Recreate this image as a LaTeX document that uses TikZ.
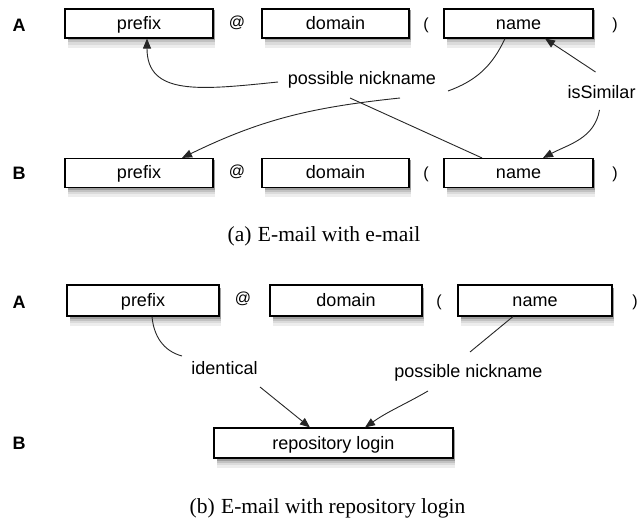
\documentclass[tikz,border=0pt]{standalone}
\usepackage{fontspec}
\setmainfont{Liberation Serif}
\setsansfont{Liberation Sans}
\usetikzlibrary{arrows.meta}

\tikzset{
  field/.style={draw=black, line width=1.1pt, fill=white, inner sep=0pt,
    minimum height=29pt, text height=14pt, text depth=2pt,
    font=\sffamily\fontsize{18}{20}\selectfont},
  sym/.style={font=\sffamily\fontsize{16}{18}\selectfont, inner sep=0pt},
  rowlabel/.style={font=\sffamily\bfseries\fontsize{18}{20}\selectfont, inner sep=0pt},
  relation/.style={font=\sffamily\fontsize{18}{20}\selectfont, inner sep=0pt},
  caption/.style={font=\rmfamily\fontsize{21.5}{24}\selectfont, inner sep=0pt, anchor=base},
  link/.style={draw=black!85, line width=0.9pt},
  arrowlink/.style={link, -{Triangle[length=10pt,width=8pt]}},
  shade1/.style={fill=black!7, draw=none},
  shade2/.style={fill=black!14, draw=none},
  shade3/.style={fill=black!24, draw=none},
  shade4/.style={fill=black!38, draw=none},
}

\begin{document}
\begin{tikzpicture}[x=1pt, y=-1pt]
\useasboundingbox (0,0) rectangle (639,518);

% soft drop shadows: grey bands under each box, lightest and lowest first
% row A of (a): boxes end at y=38
\fill[shade1] (68,16) rectangle (215,48);  \fill[shade1] (265,16) rectangle (411,48);  \fill[shade1] (447,16) rectangle (595,48);
\fill[shade2] (68,14) rectangle (215,45);  \fill[shade2] (265,14) rectangle (411,45);  \fill[shade2] (447,14) rectangle (595,45);
\fill[shade3] (68,12) rectangle (215,42.5);\fill[shade3] (265,12) rectangle (411,42.5);\fill[shade3] (447,12) rectangle (595,42.5);
\fill[shade4] (68,10) rectangle (215,40.5);\fill[shade4] (265,10) rectangle (411,40.5);\fill[shade4] (447,10) rectangle (595,40.5);
% row B of (a): boxes end at y=187.5
\fill[shade1] (68,166) rectangle (215,197.5);  \fill[shade1] (265,166) rectangle (411,197.5);  \fill[shade1] (447,166) rectangle (595,197.5);
\fill[shade2] (68,164) rectangle (215,194.5);  \fill[shade2] (265,164) rectangle (411,194.5);  \fill[shade2] (447,164) rectangle (595,194.5);
\fill[shade3] (68,162) rectangle (215,192);    \fill[shade3] (265,162) rectangle (411,192);    \fill[shade3] (447,162) rectangle (595,192);
\fill[shade4] (68,160) rectangle (215,190);    \fill[shade4] (265,160) rectangle (411,190);    \fill[shade4] (447,160) rectangle (595,190);
% row A of (b): boxes end at y=316
\fill[shade1] (70,294) rectangle (221,326);  \fill[shade1] (273,294) rectangle (424,326);  \fill[shade1] (461,294) rectangle (614,326);
\fill[shade2] (70,292) rectangle (221,323);  \fill[shade2] (273,292) rectangle (424,323);  \fill[shade2] (461,292) rectangle (614,323);
\fill[shade3] (70,290) rectangle (221,320.5);\fill[shade3] (273,290) rectangle (424,320.5);\fill[shade3] (461,290) rectangle (614,320.5);
\fill[shade4] (70,288) rectangle (221,318.5);\fill[shade4] (273,288) rectangle (424,318.5);\fill[shade4] (461,288) rectangle (614,318.5);
% row B of (b): box ends at y=458
\fill[shade1] (217,436) rectangle (455,468);
\fill[shade2] (217,434) rectangle (455,465);
\fill[shade3] (217,432) rectangle (455,462.5);
\fill[shade4] (217,430) rectangle (455,460.5);

% ---------- (a) e-mail against e-mail ----------
\node[rowlabel] (lA1) at (19,25) {A};
\node[rowlabel] (lB1) at (19,173) {B};

\node[field, minimum width=148pt] (pA) at (139,23.5) {prefix};
\node[sym] (atA) at (237,23) {@};
\node[field, minimum width=147pt] (dA) at (335.5,23.5) {domain};
\node[sym] (opA) at (426,25) {(};
\node[field, minimum width=149pt] (nA) at (518.5,23.5) {name};
\node[sym] (clA) at (615,25) {)};

\node[field, minimum width=148pt] (pB) at (139,173) {prefix};
\node[sym] (atB) at (237,172) {@};
\node[field, minimum width=147pt] (dB) at (335.5,173) {domain};
\node[sym] (opB) at (426,174) {(};
\node[field, minimum width=149pt] (nB) at (518.5,173) {name};
\node[sym] (clB) at (615,174) {)};

\node[relation] (nick) at (362,80) {possible nickname};
\node[relation] (sim) at (601.5,92) {isSimilar};

% name (A) -> prefix (B)
\draw[link] ([xshift=-13.5pt]nA.south) to[out=-115, in=20]
  ([shift={(86,11)}]nick.center);
\draw[arrowlink] ([shift={(38,18)}]nick.center) to[out=186, in=26]
  ([xshift=43pt]pB.north);
% name (B) -> prefix (A)
\draw[link] ([xshift=-36.5pt]nB.north) -- ([shift={(-12,18)}]nick.center);
\draw[arrowlink] ([shift={(-84,2)}]nick.center) .. controls (200,90) and (147,96) ..
  ([xshift=8pt]pA.south);
% name (A) <-> name (B)
\draw[arrowlink] ([shift={(-6,-20)}]sim.center) -- ([xshift=26.5pt]nA.south);
\draw[arrowlink] ([shift={(-2,18)}]sim.center) to[out=-100, in=28]
  ([xshift=24.5pt]nB.north);

\node[caption] (capa) at (324,242) {(a)\hspace{0.3em}E-mail with e-mail};

% ---------- (b) e-mail against repository login ----------
\node[rowlabel] (lA2) at (19,302) {A};
\node[rowlabel] (lB2) at (19,443) {B};

\node[field, minimum width=152pt, minimum height=31pt] (pA2) at (143,300.5) {prefix};
\node[sym] (atA2) at (243,299) {@};
\node[field, minimum width=152pt, minimum height=31pt] (dA2) at (346,300.5) {domain};
\node[sym] (opA2) at (439,302) {(};
\node[field, minimum width=154pt, minimum height=31pt] (nA2) at (535,300.5) {name};
\node[sym] (clA2) at (635,302) {)};

\node[field, minimum width=239pt, minimum height=30pt] (repo) at (333.5,443) {repository login};

\node[relation] (ident) at (224.5,368) {identical};
\node[relation] (nick2) at (468.5,373) {possible nickname};

\draw[link] ([xshift=9pt]pA2.south) to[out=-85, in=165]
  ([shift={(-42.5,-12)}]ident.center);
\draw[arrowlink] ([shift={(35.5,19)}]ident.center) -- ([xshift=-23.5pt]repo.north);
\draw[link] ([xshift=-22pt]nA2.south) -- ([shift={(1.5,-21)}]nick2.center);
\draw[arrowlink] ([shift={(-40.5,18)}]nick2.center) to[out=210, in=35]
  ([xshift=31.5pt]repo.north);

\node[caption] (capb) at (327.5,513) {(b)\hspace{0.3em}E-mail with repository login};
\end{tikzpicture}
\end{document}
